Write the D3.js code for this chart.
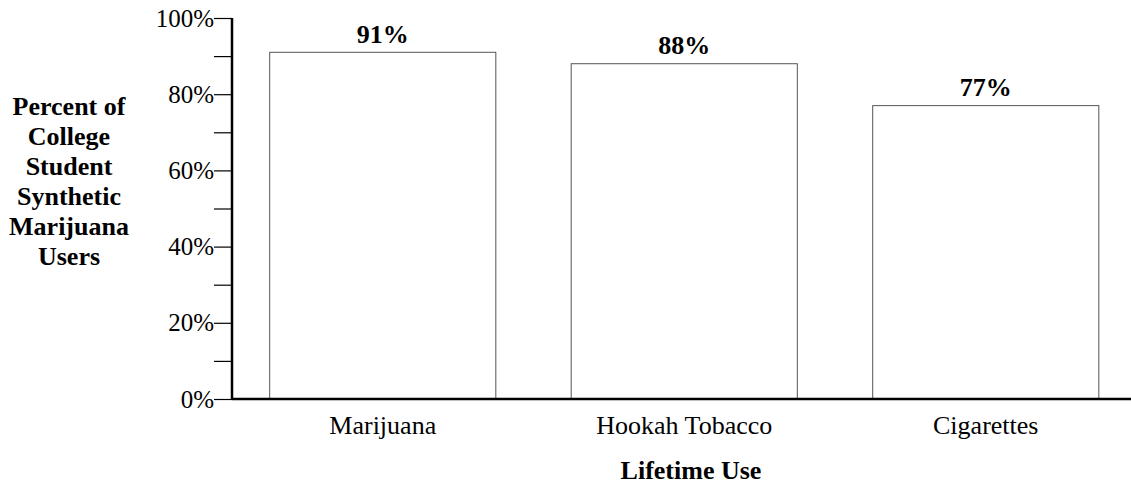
<!DOCTYPE html>
<html lang="en">
<head>
<meta charset="UTF-8">
<title>Lifetime Use</title>
<script src="https://d3js.org/d3.v7.min.js"></script>
<style>
    body { margin: 0; background: #fff; }
    svg { display: block; font-family: 'Liberation Serif', 'Times New Roman', serif; }
    .y-axis text { font-size: 25px; fill: #000; font-family: 'Liberation Serif', 'Times New Roman', serif; }
    .y-axis line { stroke: #000; stroke-width: 1.2; }
    .y-axis path { display: none; }
</style>
</head>
<body>
<svg></svg>
<script>
    const categories = ["Marijuana", "Hookah Tobacco", "Cigarettes"];
    const values = [91, 88, 77];
    const yTicks = [0, 10, 20, 30, 40, 50, 60, 70, 80, 90, 100];
    const yLabelLines = ["Percent of", "College", "Student", "Synthetic", "Marijuana", "Users"];

    const W = 1131, H = 485;
    const plotLeft = 232, plotTop = 18, plotBottom = 399;

    const svg = d3.select("svg").attr("width", W).attr("height", H);

    const x = d3.scaleBand()
        .domain(categories)
        .range([plotLeft, plotLeft + 904.5])
        .paddingInner(0.25)
        .paddingOuter(0.125);

    const y = d3.scaleLinear()
        .domain([0, 100])
        .range([plotBottom, plotTop]);

    // bars
    svg.selectAll(".bar")
        .data(values)
        .enter().append("rect")
        .attr("class", "bar")
        .attr("x", (d, i) => x(categories[i]))
        .attr("y", d => y(d))
        .attr("width", x.bandwidth())
        .attr("height", d => plotBottom - y(d))
        .attr("fill", "#fff")
        .attr("stroke", "#555")
        .attr("stroke-width", 1);

    // value labels
    svg.selectAll(".val")
        .data(values)
        .enter().append("text")
        .attr("x", (d, i) => x(categories[i]) + x.bandwidth() / 2)
        .attr("y", d => y(d) - 9.5)
        .attr("text-anchor", "middle")
        .attr("font-size", 26)
        .attr("font-weight", "bold")
        .text(d => d + "%");

    // y axis
    svg.append("g")
        .attr("class", "y-axis")
        .attr("transform", `translate(${plotLeft},0)`)
        .call(d3.axisLeft(y)
            .tickValues(yTicks)
            .tickSize(18)
            .tickPadding(0)
            .tickFormat(d => d % 20 === 0 ? d + "%" : ""))
        .attr("font-family", null)
        .attr("font-size", null);

    svg.append("line")
        .attr("x1", plotLeft).attr("x2", plotLeft)
        .attr("y1", y(100)).attr("y2", plotBottom + 1)
        .attr("stroke", "#000").attr("stroke-width", 2.5);

    // baseline
    svg.append("line")
        .attr("x1", plotLeft).attr("x2", W)
        .attr("y1", plotBottom).attr("y2", plotBottom)
        .attr("stroke", "#000").attr("stroke-width", 2.5);

    // category labels
    svg.selectAll(".cat")
        .data(categories)
        .enter().append("text")
        .attr("x", d => x(d) + x.bandwidth() / 2)
        .attr("y", 434)
        .attr("text-anchor", "middle")
        .attr("font-size", 26)
        .text(d => d);

    // x title
    svg.append("text")
        .attr("x", 691)
        .attr("y", 479)
        .attr("text-anchor", "middle")
        .attr("font-size", 26)
        .attr("font-weight", "bold")
        .text("Lifetime Use");

    // y title
    svg.append("text")
        .attr("text-anchor", "middle")
        .attr("font-size", 26)
        .attr("font-weight", "bold")
        .selectAll("tspan")
        .data(yLabelLines)
        .enter().append("tspan")
        .attr("x", 69)
        .attr("y", (d, i) => 115 + i * 30)
        .text(d => d);
</script>
</body>
</html>
